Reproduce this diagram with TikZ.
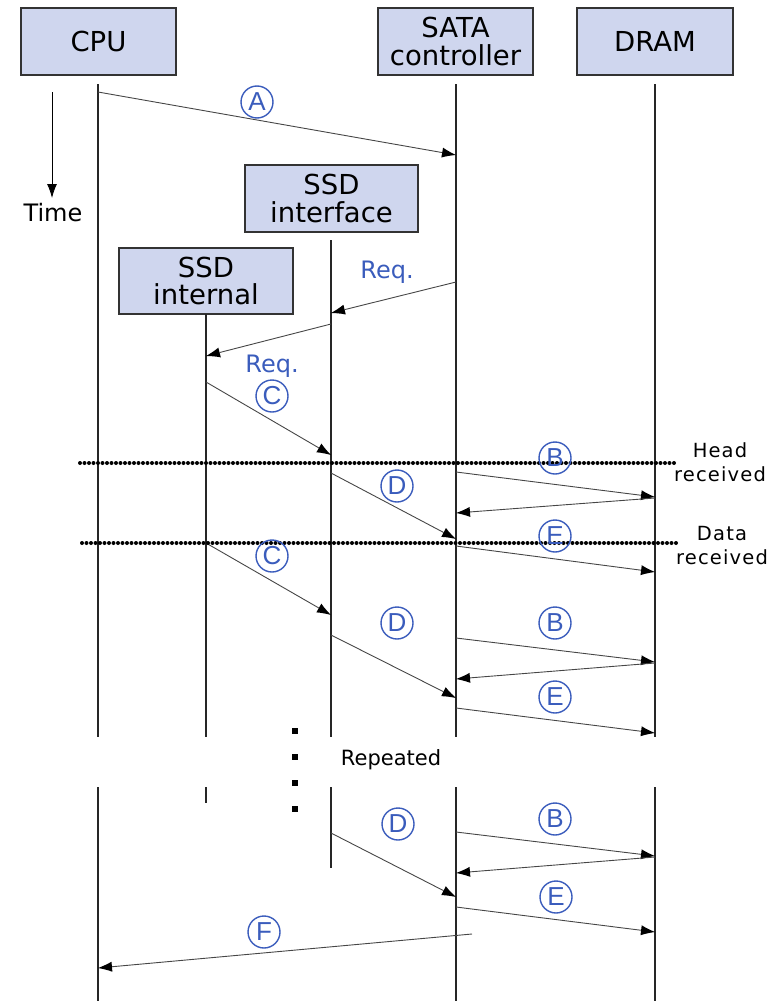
\documentclass[tikz,border=0pt]{standalone}
\usepackage{fontspec}
\setmainfont{DejaVu Sans}
\newfontfamily\circfont{Liberation Sans}
\newfontfamily\widefont[LetterSpace=6]{DejaVu Sans}
\usetikzlibrary{arrows.meta}
\definecolor{boxfill}{RGB}{207,214,238}
\definecolor{lblue}{RGB}{58,92,188}
\definecolor{msgc}{RGB}{70,70,70}
\tikzset{
 actor/.style={draw=black!80, line width=1.6pt, fill=boxfill, minimum height=67pt, inner sep=0pt, align=center, font=\fontsize{27.5}{27.5}\selectfont},
 life/.style={line width=1.8pt, draw=black!85},
 msg/.style={line width=0.9pt, draw=msgc, -{Latex[length=14pt,width=10pt,fill=black,line width=0pt]}},
 circ/.style={circle, draw=lblue, line width=1.4pt, text=lblue, minimum size=32pt, inner sep=0pt, font=\circfont\fontsize{26}{26}\selectfont},
 req/.style={text=lblue, inner sep=0pt, font=\fontsize{24}{24}\selectfont},
 dotline/.style={line width=4pt, dash pattern=on 0pt off 4.5pt, line cap=round},
 note/.style={align=center, inner sep=0pt, font=\widefont\fontsize{19.5}{24}\selectfont},
 dotsq/.style={fill=black, rectangle, minimum size=5.5pt, inner sep=0pt},
}
\begin{document}
\begin{tikzpicture}[x=1pt,y=-1pt]
\useasboundingbox (0,0) rectangle (781,1001);
% actors
\node[actor, minimum width=155pt] (cpu) at (98.5,41.5) {CPU};
\node[actor, minimum width=155pt] (sata) at (455.5,41.5) {SATA\\controller};
\node[actor, minimum width=156pt] (dram) at (655,41.5) {DRAM};
\node[actor, minimum width=173pt] (ssdif) at (331.5,198.5) {SSD\\interface};
\node[actor, minimum width=174pt, minimum height=66pt] (ssdin) at (206,281) {SSD\\internal};
% lifeline coordinates
\coordinate (cpuT) at (98,84);   \coordinate (cpuB1) at (98,737);  \coordinate (cpuB2) at (98,787);  \coordinate (cpuE) at (98,1001);
\coordinate (sataT) at (456,84); \coordinate (sataB1) at (456,737); \coordinate (sataB2) at (456,787); \coordinate (sataE) at (456,1001);
\coordinate (dramT) at (655,84); \coordinate (dramB1) at (655,737); \coordinate (dramB2) at (655,787); \coordinate (dramE) at (655,1001);
\coordinate (ifT) at (331,240);  \coordinate (ifB1) at (331,737);  \coordinate (ifB2) at (331,787);  \coordinate (ifE) at (331,868);
\coordinate (inT) at (206,314);  \coordinate (inB1) at (206,737);  \coordinate (inB2) at (206,787);  \coordinate (inE) at (206,803);
\draw[life] (cpuT) -- (cpuB1) (cpuB2) -- (cpuE);
\draw[life] (sataT) -- (sataB1) (sataB2) -- (sataE);
\draw[life] (dramT) -- (dramB1) (dramB2) -- (dramE);
\draw[life] (ifT) -- (ifB1) (ifB2) -- (ifE);
\draw[life] (inT) -- (inB1) (inB2) -- (inE);
% time arrow
\coordinate (t0) at (52,92); \coordinate (t1) at (52,198);
\draw[line width=0.9pt, -{Latex[length=14pt,width=10pt]}] (t0) -- (t1);
\node[inner sep=0pt, font=\fontsize{24}{24}\selectfont] (time) at (53,213) {Time};
% message end points
\coordinate (a0) at (98,92);   \coordinate (a1) at (456,155);
\coordinate (r10) at (456,282); \coordinate (r11) at (331,313);
\coordinate (r20) at (331,324); \coordinate (r21) at (206,356);
\coordinate (c10) at (206,382); \coordinate (c11) at (331,455);
\coordinate (d10) at (331,473); \coordinate (d11) at (456,539);
\coordinate (b10) at (456,472); \coordinate (b11) at (655,497);
\coordinate (q10) at (655,498); \coordinate (q11) at (456,513);
\coordinate (e10) at (456,546); \coordinate (e11) at (655,572);
\coordinate (c20) at (206,543); \coordinate (c21) at (331,615);
\coordinate (d20) at (331,635); \coordinate (d21) at (456,698);
\coordinate (b20) at (456,638); \coordinate (b21) at (655,662);
\coordinate (q20) at (655,663); \coordinate (q21) at (456,679);
\coordinate (e20) at (456,708); \coordinate (e21) at (655,733);
\coordinate (d30) at (331,833); \coordinate (d31) at (456,897);
\coordinate (b30) at (456,832); \coordinate (b31) at (655,856);
\coordinate (q30) at (655,857); \coordinate (q31) at (456,873);
\coordinate (e30) at (456,907); \coordinate (e31) at (655,932);
\coordinate (f0) at (472,934);  \coordinate (f1) at (98,968);
\foreach \s/\e in {a0/a1,r10/r11,r20/r21,c10/c11,d10/d11,b10/b11,q10/q11,e10/e11,c20/c21,d20/d21,b20/b21,q20/q21,e20/e21,d30/d31,b30/b31,q30/q31,e30/e31,f0/f1}
  \draw[msg] (\s) -- (\e);
% dotted lines
\coordinate (h0) at (80,463); \coordinate (h1) at (676,463);
\coordinate (g0) at (82,543); \coordinate (g1) at (679,543);
\draw[dotline] (h0) -- (h1);
\draw[dotline] (g0) -- (g1);
\node[note] (head) at (720,462) {Head\\received};
\node[note] (data) at (722,546) {Data\\received};
% labels
\node[circ] (lA) at (257,102) {A};
\node[req] (lreq1) at (387,272) {Req.};
\node[req] (lreq2) at (272,366) {Req.};
\node[circ] (lC1) at (272,396) {C};
\node[circ] (lD1) at (397,486) {D};
\node[circ] (lB1) at (555,458) {B};
\node[circ] (lE1) at (555,536) {E};
\node[circ] (lC2) at (272,556) {C};
\node[circ] (lD2) at (397,623) {D};
\node[circ] (lB2) at (555,623) {B};
\node[circ] (lE2) at (555,697) {E};
\node[circ] (lD3) at (398,824) {D};
\node[circ] (lB3) at (555,819) {B};
\node[circ] (lE3) at (556,897) {E};
\node[circ] (lF) at (264,932) {F};
% repeated
\node[dotsq] (dt1) at (295,731) {};
\node[dotsq] (dt2) at (295,757) {};
\node[dotsq] (dt3) at (295,783) {};
\node[dotsq] (dt4) at (295,809) {};
\node[inner sep=0pt, font=\fontsize{21}{21}\selectfont] (rep) at (391,760) {Repeated};
\end{tikzpicture}
\end{document}
